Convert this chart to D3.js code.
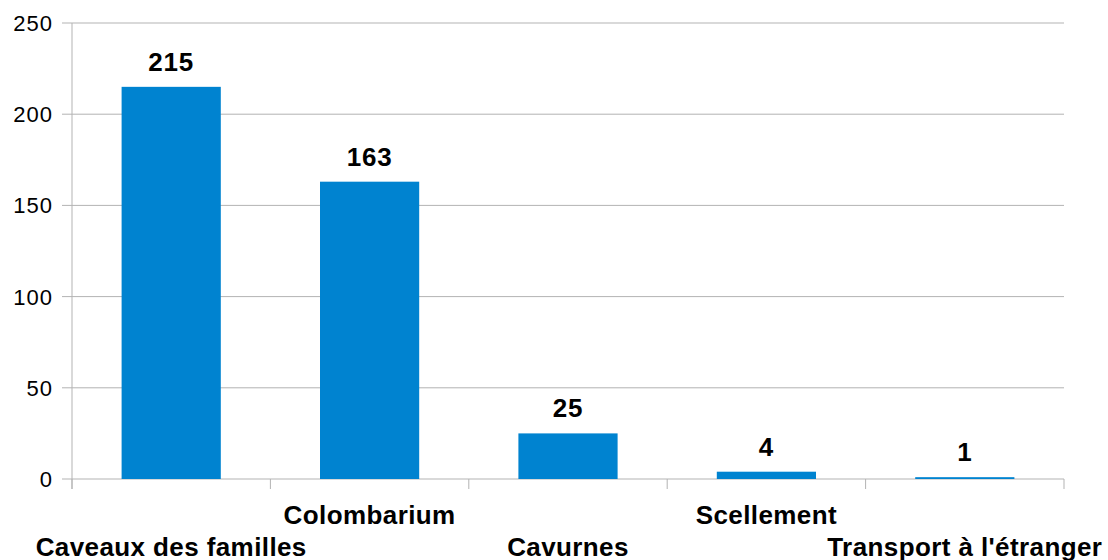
<!DOCTYPE html>
<html>
<head>
<meta charset="utf-8">
<script src="https://cdn.jsdelivr.net/npm/d3@7"></script>
<style>
  body { margin: 0; background: #fff; }
  svg { display: block; font-family: "Liberation Sans", Arial, sans-serif; }
</style>
</head>
<body>
<script>
const categories = ['Caveaux des familles', 'Colombarium', 'Cavurnes', 'Scellement', "Transport à l'étranger"];
const values = [215, 163, 25, 4, 1];
const yTicks = [0, 50, 100, 150, 200, 250];

const width = 1108, height = 560;
const margin = {top: 23, right: 44, bottom: 81, left: 72};
const innerW = width - margin.left - margin.right;
const innerH = height - margin.top - margin.bottom;

const svg = d3.select('body').append('svg')
  .attr('width', width)
  .attr('height', height);

const g = svg.append('g')
  .attr('transform', `translate(${margin.left},${margin.top})`);

const x = d3.scaleBand()
  .domain(categories)
  .range([0, innerW])
  .paddingInner(0.5)
  .paddingOuter(0.25);

const y = d3.scaleLinear()
  .domain([0, 250])
  .range([innerH, 0]);

const gridColor = '#b3b3b3';

// horizontal grid
g.selectAll('.grid')
  .data(yTicks)
  .enter()
  .append('line')
  .attr('x1', -10)
  .attr('x2', innerW)
  .attr('y1', d => y(d))
  .attr('y2', d => y(d))
  .attr('stroke', gridColor)
  .attr('stroke-width', 1);

// y axis line
g.append('line')
  .attr('x1', 0).attr('x2', 0)
  .attr('y1', 0).attr('y2', innerH + 10)
  .attr('stroke', gridColor);

// y tick labels
g.selectAll('.ylab')
  .data(yTicks)
  .enter()
  .append('text')
  .attr('x', -19)
  .attr('y', d => y(d))
  .attr('dy', '0.36em')
  .attr('text-anchor', 'end')
  .style('font-size', '22px')
  .style('letter-spacing', '1px')
  .style('fill', '#000')
  .text(d => d);

// x category boundary ticks
const step = innerW / categories.length;
g.selectAll('.xtick')
  .data(d3.range(categories.length + 1))
  .enter()
  .append('line')
  .attr('x1', d => d * step)
  .attr('x2', d => d * step)
  .attr('y1', innerH)
  .attr('y2', innerH + 10)
  .attr('stroke', gridColor);

// bars
g.selectAll('.bar')
  .data(values)
  .enter()
  .append('rect')
  .attr('x', (d, i) => x(categories[i]))
  .attr('width', x.bandwidth())
  .attr('y', d => y(d))
  .attr('height', d => innerH - y(d))
  .attr('fill', '#0083d0');

// value labels
g.selectAll('.val')
  .data(values)
  .enter()
  .append('text')
  .attr('x', (d, i) => x(categories[i]) + x.bandwidth() / 2)
  .attr('y', d => y(d) - 16)
  .attr('text-anchor', 'middle')
  .style('font-size', '26px')
  .style('letter-spacing', '0.8px')
  .style('font-weight', 'bold')
  .text(d => d);

// category labels, staggered
g.selectAll('.xlab')
  .data(categories)
  .enter()
  .append('text')
  .attr('x', d => x(d) + x.bandwidth() / 2)
  .attr('y', (d, i) => innerH + (i % 2 === 0 ? 77 : 45))
  .attr('text-anchor', 'middle')
  .style('font-size', '26px')
  .style('letter-spacing', '0.4px')
  .style('font-weight', 'bold')
  .text(d => d);
</script>
</body>
</html>
